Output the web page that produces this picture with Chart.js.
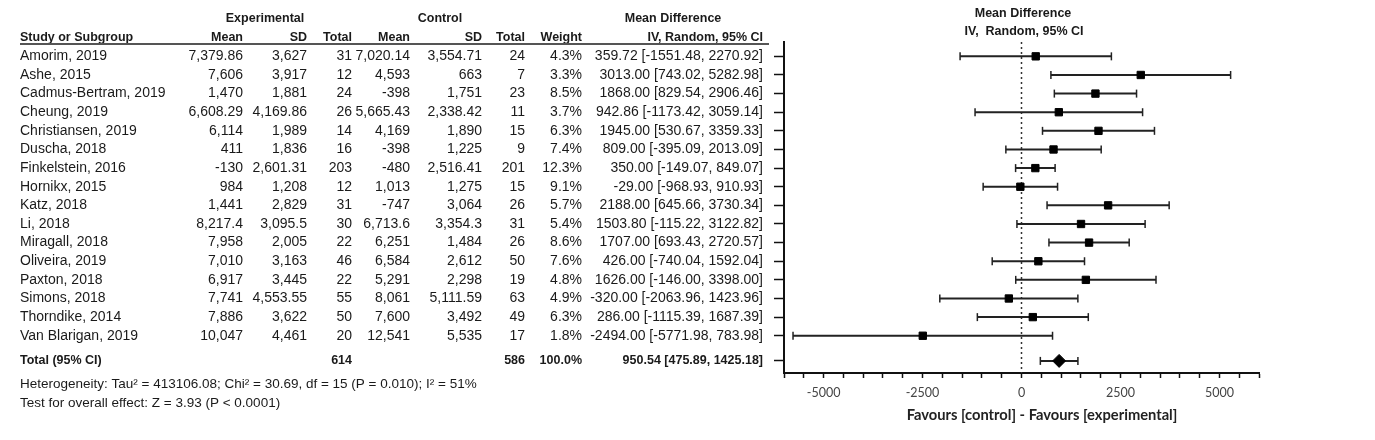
<!DOCTYPE html>
<html>
<head>
<meta charset="utf-8">
<title>Forest plot - steps per day</title>
<script src="https://cdn.jsdelivr.net/npm/chart.js@4.4.1/dist/chart.umd.min.js"></script>
<style>
    body { margin: 0; background: #ffffff; }
    #wrap { position: relative; width: 1375px; height: 440px; }
</style>
</head>
<body>
<div id="wrap"><canvas id="forestChart"></canvas></div>
<script>
// Study data
const studies = ['Amorim, 2019', 'Ashe, 2015', 'Cadmus-Bertram, 2019', 'Cheung, 2019', 'Christiansen, 2019',
    'Duscha, 2018', 'Finkelstein, 2016', 'Hornikx, 2015', 'Katz, 2018', 'Li, 2018', 'Miragall, 2018',
    'Oliveira, 2019', 'Paxton, 2018', 'Simons, 2018', 'Thorndike, 2014', 'Van Blarigan, 2019'];
const expMean = [7379.86, 7606, 1470, 6608.29, 6114, 411, -130, 984, 1441, 8217.4, 7958, 7010, 6917, 7741, 7886, 10047];
const expSD = [3627, 3917, 1881, 4169.86, 1989, 1836, 2601.31, 1208, 2829, 3095.5, 2005, 3163, 3445, 4553.55, 3622, 4461];
const expN = [31, 12, 24, 26, 14, 16, 203, 12, 31, 30, 22, 46, 22, 55, 50, 20];
const ctlMean = [7020.14, 4593, -398, 5665.43, 4169, -398, -480, 1013, -747, 6713.6, 6251, 6584, 5291, 8061, 7600, 12541];
const ctlSD = [3554.71, 663, 1751, 2338.42, 1890, 1225, 2516.41, 1275, 3064, 3354.3, 1484, 2612, 2298, 5111.59, 3492, 5535];
const ctlN = [24, 7, 23, 11, 15, 9, 201, 15, 26, 31, 26, 50, 19, 63, 49, 17];
const weights = [4.3, 3.3, 8.5, 3.7, 6.3, 7.4, 12.3, 9.1, 5.7, 5.4, 8.6, 7.6, 4.8, 4.9, 6.3, 1.8];
const meanDiff = [359.72, 3013, 1868, 942.86, 1945, 809, 350, -29, 2188, 1503.8, 1707, 426, 1626, -320, 286, -2494];
const ciLow = [-1551.48, 743.02, 829.54, -1173.42, 530.67, -395.09, -149.07, -968.93, 645.66, -115.22, 693.43, -740.04, -146, -2063.96, -1115.39, -5771.98];
const ciHigh = [2270.92, 5282.98, 2906.46, 3059.14, 3359.33, 2013.09, 849.07, 910.93, 3730.34, 3122.82, 2720.57, 1592.04, 3398, 1423.96, 1687.39, 783.98];

// Pooled result
const totalExpN = 614;
const totalCtlN = 586;
const totalWeight = 100.0;
const totalMD = 950.54;
const totalLow = 475.89;
const totalHigh = 1425.18;

const heterogeneityText = 'Heterogeneity: Tau\u00b2 = 413106.08; Chi\u00b2 = 30.69, df = 15 (P = 0.010); I\u00b2 = 51%';
const overallText = 'Test for overall effect: Z = 3.93 (P < 0.0001)';

// Axis settings
const xTickValues = [-5000, -2500, 0, 2500, 5000];
const xMin = -6000;
const xMax = 6000;

// row positions on the y scale (1..16 for studies, total a bit lower)
const totalRow = 17.35;
const rowTicks = studies.map((s, i) => i + 1).concat([totalRow]);

const TEXT = '#1a1a1a';
const REG = '14px "Liberation Sans", Arial, sans-serif';
const BOLD = 'bold 12.5px "Liberation Sans", Arial, sans-serif';
const NOTE = '13.5px "Liberation Sans", Arial, sans-serif';

function fmtNum(v) {
    return v.toLocaleString('en-US', { maximumFractionDigits: 2 });
}
function fmtCI(md, lo, hi) {
    return md.toFixed(2) + ' [' + lo.toFixed(2) + ', ' + hi.toFixed(2) + ']';
}

// Build chart data from the arrays
const ciData = [];
studies.forEach(function(s, i) {
    ciData.push({ x: ciLow[i], y: i + 1 }, { x: ciHigh[i], y: i + 1 }, { x: null, y: null });
});
ciData.push({ x: totalLow, y: totalRow }, { x: totalHigh, y: totalRow });

const squareData = meanDiff.map((v, i) => ({ x: v, y: i + 1 }));

// Plugin that writes the table on the left side of the canvas
const tablePlugin = {
    id: 'forestTable',
    afterDraw(chart) {
        const ctx = chart.ctx;
        const yScale = chart.scales.y;
        const rowY = v => yScale.getPixelForValue(v);

        function txt(str, x, v, align, font) {
            ctx.font = font;
            ctx.textAlign = align;
            ctx.fillText(str, x, typeof v === 'number' ? rowY(v) : v.px);
        }

        ctx.save();
        ctx.fillStyle = TEXT;
        ctx.textBaseline = 'middle';

        // Group headers
        txt('Experimental', 265, -1.05, 'center', BOLD);
        txt('Control', 440, -1.05, 'center', BOLD);
        txt('Mean Difference', 673, -1.05, 'center', BOLD);

        // Column headers
        txt('Study or Subgroup', 20, 0, 'left', BOLD);
        txt('Mean', 243, 0, 'right', BOLD);
        txt('SD', 307, 0, 'right', BOLD);
        txt('Total', 352, 0, 'right', BOLD);
        txt('Mean', 410, 0, 'right', BOLD);
        txt('SD', 482, 0, 'right', BOLD);
        txt('Total', 525, 0, 'right', BOLD);
        txt('Weight', 582, 0, 'right', BOLD);
        txt('IV, Random, 95% CI', 763, 0, 'right', BOLD);

        // underline below the headers
        ctx.strokeStyle = '#555555';
        ctx.lineWidth = 2;
        ctx.beginPath();
        ctx.moveTo(20, rowY(0.34));
        ctx.lineTo(769, rowY(0.34));
        ctx.stroke();

        // Study rows
        studies.forEach(function(s, i) {
            const r = i + 1;
            txt(s, 20, r, 'left', REG);
            txt(fmtNum(expMean[i]), 243, r, 'right', REG);
            txt(fmtNum(expSD[i]), 307, r, 'right', REG);
            txt(String(expN[i]), 352, r, 'right', REG);
            txt(fmtNum(ctlMean[i]), 410, r, 'right', REG);
            txt(fmtNum(ctlSD[i]), 482, r, 'right', REG);
            txt(String(ctlN[i]), 525, r, 'right', REG);
            txt(weights[i].toFixed(1) + '%', 582, r, 'right', REG);
            txt(fmtCI(meanDiff[i], ciLow[i], ciHigh[i]), 763, r, 'right', REG);
        });

        // Total row
        txt('Total (95% CI)', 20, totalRow, 'left', BOLD);
        txt(String(totalExpN), 352, totalRow, 'right', BOLD);
        txt(String(totalCtlN), 525, totalRow, 'right', BOLD);
        txt(totalWeight.toFixed(1) + '%', 582, totalRow, 'right', BOLD);
        txt(fmtCI(totalMD, totalLow, totalHigh), 763, totalRow, 'right', BOLD);

        // Footnotes
        txt(heterogeneityText, 20, 18.63, 'left', NOTE);
        txt(overallText, 20, 19.6, 'left', NOTE);

        // Plot header
        txt('Mean Difference', 1023, { px: 14 }, 'center', BOLD);
        txt('IV,  Random, 95% CI', 1024, { px: 31.5 }, 'center', BOLD);

        // x axis title
        ctx.fillStyle = '#222222';
        txt('Favours [control] - Favours [experimental]', 1042, { px: 415.5 }, 'center', 'bold 14.7px Lato, sans-serif');

        ctx.restore();
    }
};

const ctx = document.getElementById('forestChart').getContext('2d');
const chart = new Chart(ctx, {
    type: 'scatter',
    data: {
        datasets: [
            {
                label: 'Pooled',
                data: [{ x: totalMD, y: totalRow }],
                pointStyle: 'rectRot',
                pointRadius: 6.5,
                backgroundColor: '#000000',
                borderColor: '#000000',
                borderWidth: 1,
                order: 1
            },
            {
                label: 'Mean difference',
                data: squareData,
                pointStyle: 'rect',
                pointRadius: 5.2,
                backgroundColor: '#000000',
                borderColor: '#000000',
                borderWidth: 1,
                order: 2
            },
            {
                label: '95% CI',
                data: ciData,
                showLine: true,
                spanGaps: false,
                borderColor: '#222222',
                borderWidth: 2,
                pointStyle: 'line',
                pointRotation: 90,
                pointRadius: 4,
                pointBorderColor: '#222222',
                pointBorderWidth: 1.5,
                order: 3
            },
            {
                label: 'No effect',
                data: [{ x: 0, y: 0.23 }, { x: 0, y: 18 }],
                showLine: true,
                borderColor: '#333333',
                borderWidth: 1.5,
                borderDash: [2, 3],
                pointRadius: 0,
                order: 4
            }
        ]
    },
    options: {
        responsive: true,
        maintainAspectRatio: false,
        animation: false,
        layout: {
            padding: { left: 774, right: 116, top: 42, bottom: 0 }
        },
        scales: {
            x: {
                type: 'linear',
                min: xMin,
                max: xMax,
                afterBuildTicks: function(scale) {
                    const ticks = [];
                    for (let v = xMin; v <= xMax; v += 500) ticks.push({ value: v });
                    scale.ticks = ticks;
                },
                afterFit: function(scale) {
                    scale.height = 67;
                },
                ticks: {
                    autoSkip: false,
                    maxRotation: 0,
                    padding: 7,
                    color: '#444444',
                    font: { family: 'Lato', size: 12.5 },
                    callback: function(value) {
                        return xTickValues.includes(value) ? String(value) : '';
                    }
                },
                grid: {
                    drawOnChartArea: false,
                    drawTicks: true,
                    tickLength: 5,
                    tickColor: '#111111',
                    tickWidth: 1.5
                },
                border: { color: '#111111', width: 2 }
            },
            y: {
                type: 'linear',
                reverse: true,
                min: 0.23,
                max: 18,
                afterBuildTicks: function(scale) {
                    scale.ticks = rowTicks.map(v => ({ value: v }));
                },
                afterFit: function(scale) {
                    scale.width = 10;
                },
                ticks: {
                    callback: function() { return ''; }
                },
                grid: {
                    drawOnChartArea: false,
                    drawTicks: true,
                    tickLength: 10,
                    tickColor: '#111111',
                    tickWidth: 1.5
                },
                border: { color: '#111111', width: 2 }
            }
        },
        plugins: {
            legend: { display: false },
            tooltip: { enabled: false }
        }
    },
    plugins: [tablePlugin]
});
</script>
</body>
</html>
